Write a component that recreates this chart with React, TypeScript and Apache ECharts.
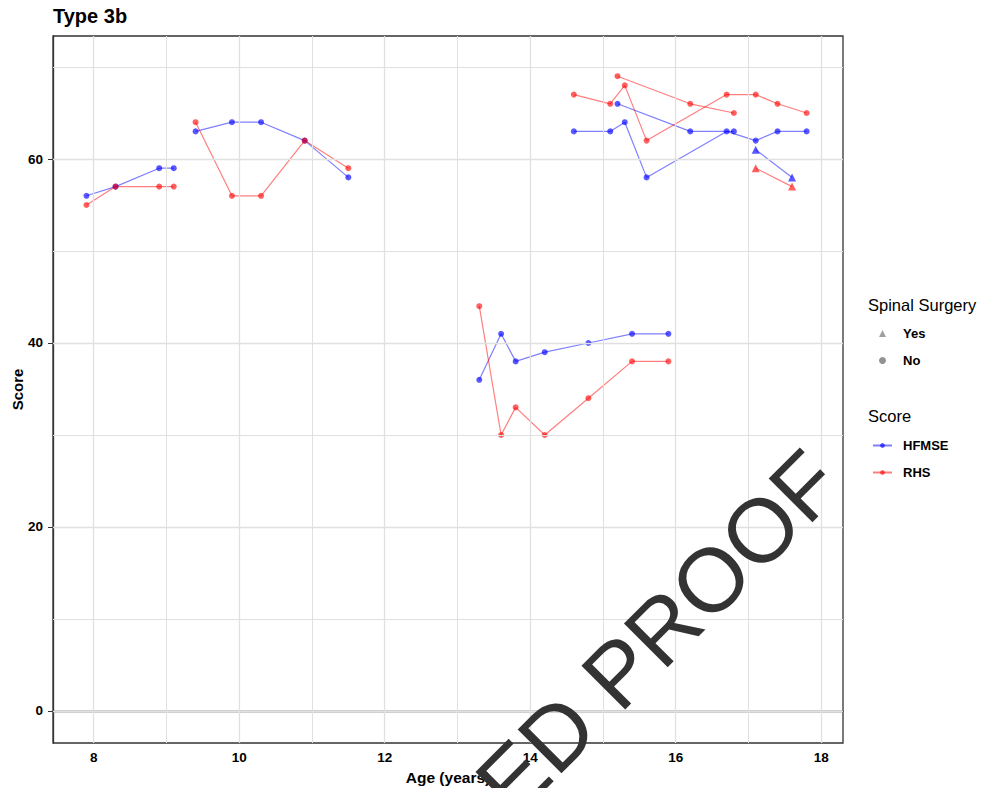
import React, { useEffect, useRef } from "react";
import * as echarts from "echarts";

// ---- data ----
const patientAges: number[][] = [
  [7.9, 8.3, 8.9, 9.1],
  [9.4, 9.9, 10.3, 10.9, 11.5],
  [13.3, 13.6, 13.8, 14.2, 14.8, 15.4, 15.9],
  [14.6, 15.1, 15.3, 15.6, 16.7, 17.1, 17.4, 17.8],
  [15.2, 16.2, 16.8],
  [17.1, 17.6],
];
const hfmseScores: number[][] = [
  [56, 57, 59, 59],
  [63, 64, 64, 62, 58],
  [36, 41, 38, 39, 40, 41, 41],
  [63, 63, 64, 58, 63, 62, 63, 63],
  [66, 63, 63],
  [61, 58],
];
const rhsScores: number[][] = [
  [55, 57, 57, 57],
  [64, 56, 56, 62, 59],
  [44, 30, 33, 30, 34, 38, 38],
  [67, 66, 68, 62, 67, 67, 66, 65],
  [69, 66, 65],
  [59, 57],
];
const spinalSurgery: string[] = ["No", "No", "No", "No", "No", "Yes"];

const xTicks = [8, 10, 12, 14, 16, 18];
const xMinor = [9, 11, 13, 15, 17];
const yTicks = [0, 20, 40, 60];
const yMinor = [10, 30, 50, 70];

const FONT = '"Liberation Sans", Arial, Helvetica, sans-serif';
const BLUE_PT = "rgba(0,0,255,0.65)";
const RED_PT = "rgba(255,0,0,0.62)";
const BLUE_LN = "rgba(0,0,255,0.5)";
const RED_LN = "rgba(255,0,0,0.5)";

export default function App() {
  const ref = useRef<HTMLDivElement>(null);
  useEffect(() => {
    if (!ref.current) return;
    const chart = echarts.init(ref.current, null, { renderer: "svg" });

    const series: any[] = [];
    // grid lines
    series.push({
      name: "grid",
      type: "line",
      data: [[8, 0]],
      symbol: "none",
      lineStyle: { opacity: 0 },
      silent: true,
      z: 1,
      markLine: {
        silent: true,
        symbol: ["none", "none"],
        label: { show: false },
        animation: false,
        lineStyle: { color: "#e0e0e0", width: 1, type: "solid" },
        emphasis: { disabled: true },
        data: [
          ...xTicks.map((v) => ({ xAxis: v, lineStyle: { width: 1.3 } })),
          ...xMinor.map((v) => ({ xAxis: v })),
          ...yTicks.map((v) => ({ yAxis: v, lineStyle: { width: 1.3 } })),
          ...yMinor.map((v) => ({ yAxis: v })),
        ],
      },
    });

    const addSeries = (name: string, scores: number[][], pt: string, ln: string) => {
      patientAges.forEach((ages, i) => {
        const yes = spinalSurgery[i] === "Yes";
        series.push({
          name,
          type: "line",
          data: ages.map((a, j) => [a, scores[i][j]]),
          symbol: yes ? "triangle" : "circle",
          symbolSize: yes ? 8 : 6,
          showAllSymbol: true,
          itemStyle: { color: pt },
          lineStyle: { color: ln, width: 1.2 },
          emphasis: { disabled: true },
          z: 3,
        });
      });
    };
    addSeries("HFMSE", hfmseScores, BLUE_PT, BLUE_LN);
    addSeries("RHS", rhsScores, RED_PT, RED_LN);

    series.push({ name: "Yes", type: "scatter", symbol: "triangle", data: [], itemStyle: { color: "#888" } });
    series.push({ name: "No", type: "scatter", symbol: "circle", data: [], itemStyle: { color: "#777" } });

    chart.setOption({
      animation: false,
      title: {
        text: "Type 3b",
        left: 53,
        top: 6,
        padding: 0,
        textStyle: { fontFamily: FONT, fontSize: 20, fontWeight: "bold", color: "#000" },
      },
      grid: {
        left: 53,
        right: 138,
        top: 36,
        bottom: 45,
        containLabel: false,
        outerBoundsMode: "none",
        show: true,
        borderColor: "#333",
        borderWidth: 1.3,
        backgroundColor: "transparent",
      },
      legend: [
        {
          data: ["Yes", "No"],
          orient: "vertical",
          left: 874,
          top: 322,
          itemWidth: 7,
          itemHeight: 7,
          itemGap: 14,
          selectedMode: false,
          textStyle: { fontFamily: FONT, fontSize: 13, fontWeight: "bold", color: "#000", padding: [0, 0, 0, 12] },
        },
        {
          data: ["HFMSE", "RHS"],
          orient: "vertical",
          left: 867,
          top: 434,
          itemWidth: 19,
          itemHeight: 6,
          itemGap: 14,
          selectedMode: false,
          textStyle: { fontFamily: FONT, fontSize: 13, fontWeight: "bold", color: "#000", padding: [0, 0, 0, 6] },
        },
      ],
      xAxis: {
        type: "value",
        min: 7.44,
        max: 18.3,
        name: "Age (years)",
        nameLocation: "middle",
        nameGap: 26,
        nameMoveOverlap: false,
        nameTextStyle: { fontFamily: FONT, fontSize: 15.5, fontWeight: "bold", color: "#000" },
        axisLine: { show: true, lineStyle: { color: "#333", width: 1.3 } },
        axisTick: { show: true, length: 4, customValues: xTicks, lineStyle: { color: "#333" } },
        axisLabel: {
          customValues: xTicks,
          margin: 7,
          fontFamily: FONT,
          fontSize: 13.5,
          fontWeight: "bold",
          color: "#000",
        },
        splitLine: { show: false },
      },
      yAxis: {
        type: "value",
        min: -3.48,
        max: 73.37,
        name: "Score",
        nameLocation: "middle",
        nameRotate: 90,
        nameGap: 28,
        nameMoveOverlap: false,
        nameTextStyle: { fontFamily: FONT, fontSize: 15, fontWeight: "bold", color: "#000" },
        axisLine: { show: true, lineStyle: { color: "#333", width: 1.3 } },
        axisTick: { show: true, length: 5, customValues: yTicks, lineStyle: { color: "#333" } },
        axisLabel: {
          customValues: yTicks,
          margin: 10,
          fontFamily: FONT,
          fontSize: 13.5,
          fontWeight: "bold",
          color: "#000",
        },
        splitLine: { show: false },
      },
      graphic: [
        {
          type: "text",
          left: 868,
          top: 296,
          style: { text: "Spinal Surgery", font: `16.5px ${FONT}`, fill: "#000" },
        },
        {
          type: "text",
          left: 868,
          top: 407,
          style: { text: "Score", font: `16.5px ${FONT}`, fill: "#000" },
        },
        {
          type: "text",
          x: 492,
          y: 799,
          rotation: Math.PI / 4,
          z: 100,
          silent: true,
          style: {
            text: "ED PROOF",
            font: `90px ${FONT}`,
            fill: "#333",
            align: "left",
            verticalAlign: "middle",
          },
        },
      ],
      series,
    });
    return () => chart.dispose();
  }, []);
  return (
    <div
      ref={ref}
      style={{ position: "fixed", left: 0, top: 0, width: 981, height: 788, background: "#fff" }}
    />
  );
}
